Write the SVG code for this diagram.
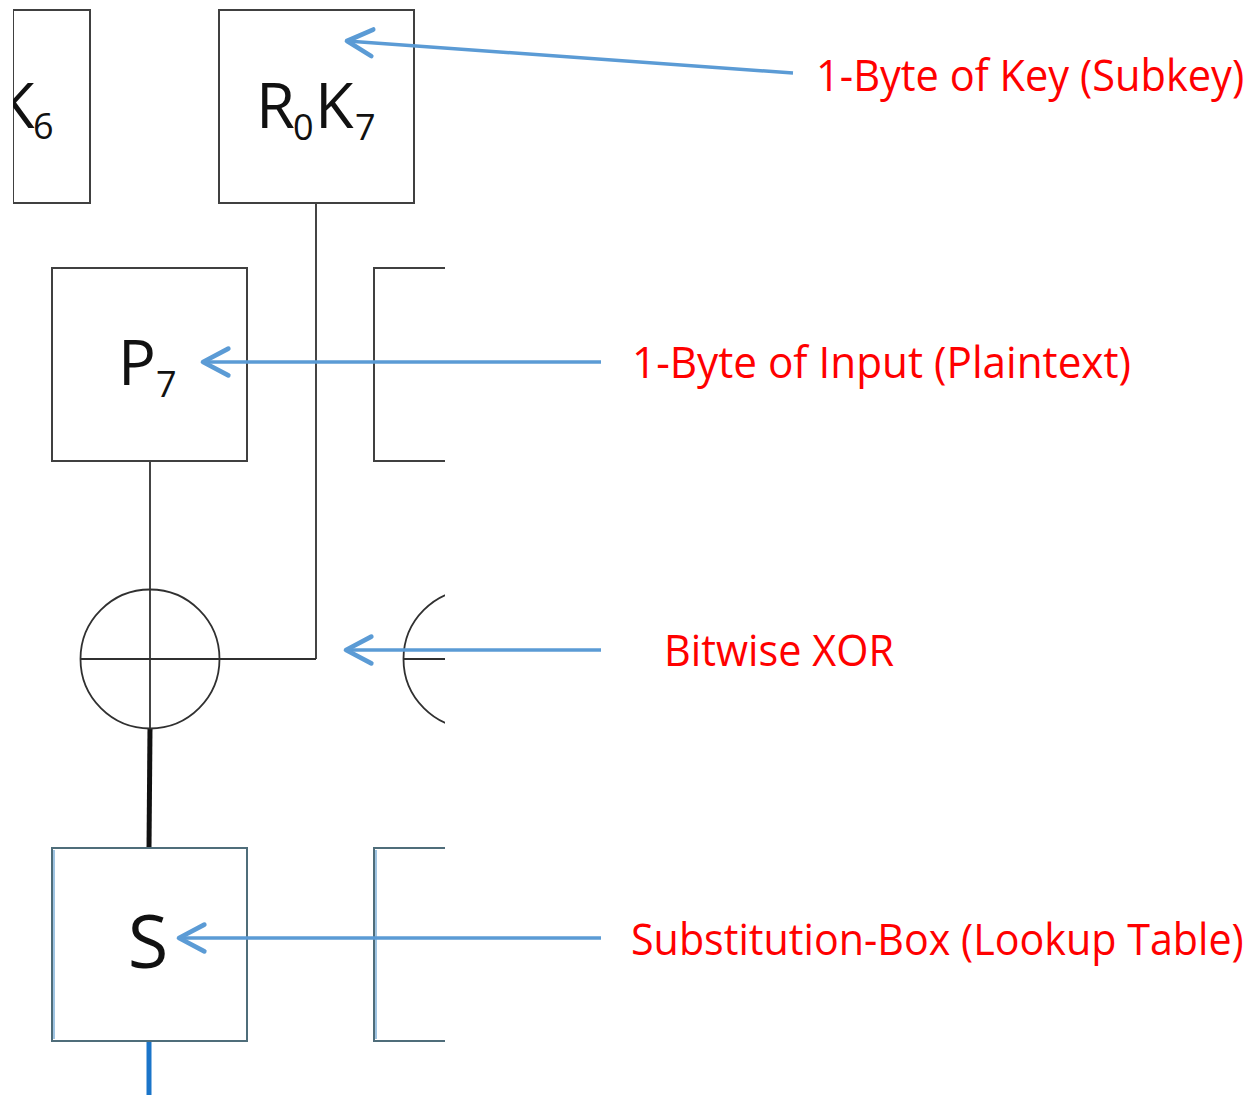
<svg xmlns="http://www.w3.org/2000/svg" width="1255" height="1095" viewBox="0 0 1255 1095">
  <style>
    .box { fill: #ffffff; stroke: #404040; stroke-width: 2; }
    .sbox { fill: #ffffff; stroke: #4f6d7a; stroke-width: 2; }
    .wire { fill: none; stroke: #303030; stroke-width: 1.8; }
    .node-text { font-family: "Open Sans", "Noto Sans", sans-serif; fill: #111111; }
    .label { font-family: "Open Sans", "Noto Sans", sans-serif; font-size: 43px; fill: #ff0000; }
    .pointer { fill: none; stroke: #5b9bd5; stroke-width: 3.5; marker-end: url(#head); }
  </style>
  <defs>
    <marker id="head" markerUnits="userSpaceOnUse" markerWidth="40" markerHeight="40" viewBox="-25 -15 30 30" refX="0" refY="0" orient="auto" overflow="visible">
      <path d="M-19,-10 L0,0 L-19,10" fill="none" stroke="#5b9bd5" stroke-width="3.5" stroke-linecap="round" stroke-linejoin="round"/>
    </marker>
    <clipPath id="crop">
      <rect x="13" y="0" width="432" height="1095"/>
    </clipPath>
  </defs>
  <rect width="1255" height="1095" fill="#ffffff"/>

  <g clip-path="url(#crop)">
    <g id="connectors">
      <line class="wire" x1="316" y1="203" x2="316" y2="659"/>
      <line class="wire" x1="219" y1="659" x2="316" y2="659"/>
      <line class="wire" x1="150" y1="461" x2="150" y2="728"/>
      <line x1="150" y1="728" x2="149" y2="849" stroke="#111111" stroke-width="5"/>
      <line x1="149" y1="1041" x2="149" y2="1095" stroke="#1b75c9" stroke-width="5"/>
    </g>

    <g id="node-k6">
      <rect class="box" x="13" y="10" width="77" height="193"/>
      <text class="node-text"><tspan x="-4" y="128" font-size="63">K</tspan><tspan x="33" y="139" font-size="36">6</tspan></text>
    </g>

    <g id="node-r0k7">
      <rect class="box" x="219" y="10" width="195" height="193"/>
      <text class="node-text"><tspan x="256" y="128" font-size="63">R</tspan><tspan x="293" y="140" font-size="36">0</tspan><tspan x="315" y="128" font-size="63">K</tspan><tspan x="355" y="140" font-size="36">7</tspan></text>
    </g>

    <g id="node-p7">
      <rect class="box" x="52" y="268" width="195" height="193"/>
      <text class="node-text"><tspan x="118" y="385" font-size="63">P</tspan><tspan x="156" y="397" font-size="36">7</tspan></text>
    </g>

    <g id="node-p6">
      <rect class="box" x="374" y="268" width="195" height="193"/>
    </g>

    <g id="node-xor7">
      <circle cx="150" cy="659" r="69.5" fill="none" stroke="#303030" stroke-width="1.8"/>
      <line class="wire" x1="80.5" y1="659" x2="219.5" y2="659"/>
    </g>

    <g id="node-xor6">
      <circle cx="473" cy="659" r="69.5" fill="none" stroke="#303030" stroke-width="1.8"/>
      <line class="wire" x1="403.5" y1="659" x2="542.5" y2="659"/>
    </g>

    <g id="node-s7">
      <rect class="sbox" x="52" y="848" width="195" height="193"/>
      <line x1="54" y1="850" x2="54" y2="1039" stroke="#7fb0d8" stroke-width="1.5"/>
      <text class="node-text" x="148" y="968" font-size="74" text-anchor="middle">S</text>
    </g>

    <g id="node-s6">
      <rect class="sbox" x="374" y="848" width="195" height="193"/>
      <line x1="376" y1="850" x2="376" y2="1039" stroke="#7fb0d8" stroke-width="1.5"/>
    </g>
  </g>

  <g id="pointers">
    <line class="pointer" x1="793" y1="73" x2="347" y2="41"/>
    <line class="pointer" x1="601" y1="362" x2="203" y2="362"/>
    <line class="pointer" x1="601" y1="650" x2="346" y2="650"/>
    <line class="pointer" x1="601" y1="938" x2="179" y2="938"/>
  </g>

  <g id="labels">
    <text class="label" transform="translate(816,91) scale(0.96,1)" x="0" y="0" textLength="446" lengthAdjust="spacingAndGlyphs">1-Byte of Key (Subkey)</text>
    <text class="label" x="632" y="378" textLength="499" lengthAdjust="spacingAndGlyphs">1-Byte of Input (Plaintext)</text>
    <text class="label" x="664" y="666" textLength="230" lengthAdjust="spacingAndGlyphs">Bitwise XOR</text>
    <text class="label" transform="translate(631,955) scale(0.95,1)" x="0" y="0" textLength="645" lengthAdjust="spacingAndGlyphs">Substitution-Box (Lookup Table)</text>
  </g>
</svg>
